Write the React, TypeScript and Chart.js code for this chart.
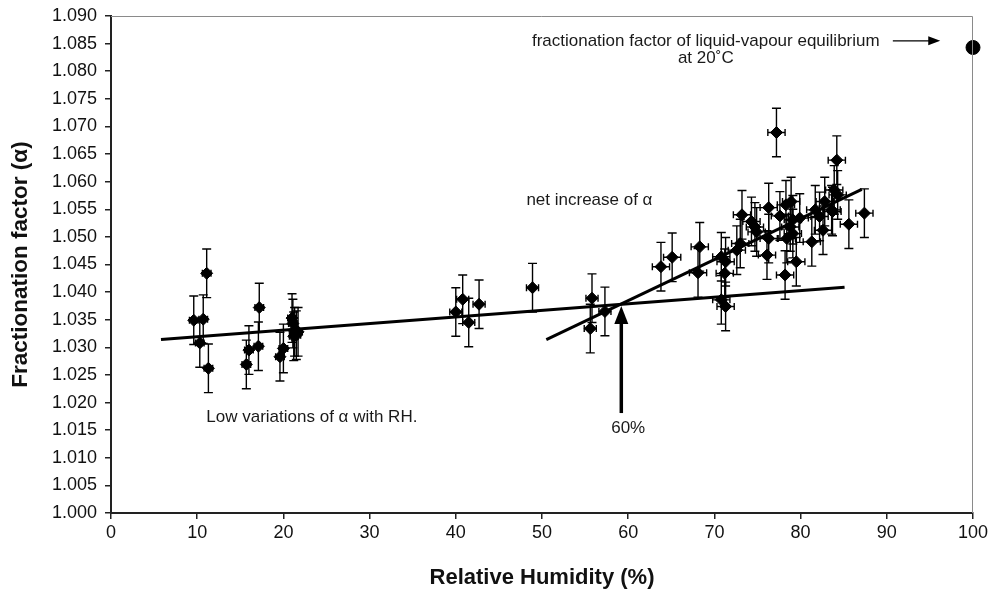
import React, { useEffect, useRef } from "react";
import { Chart, registerables } from "chart.js";

Chart.register(...registerables);

// Relative humidity (%) of each measurement
const rh = [
  9.6, 10.7, 10.3, 11.1, 11.3, 15.7, 16.0, 17.1, 17.2, 19.6, 20.0, 21.0, 21.1, 21.3, 21.5, 21.7, 21.2,
  40.0, 40.8, 41.5, 42.7, 48.9, 55.8, 55.6, 57.3,
  63.8, 65.1, 68.3, 68.1, 70.8, 71.3, 71.2, 70.8, 71.3, 72.6, 73.0, 73.2, 74.3, 74.9, 74.7,
  76.3, 76.3, 76.1, 77.2, 77.6, 78.3, 78.9, 79.1, 79.9, 78.8, 79.1, 78.4, 79.5, 78.2,
  81.3, 81.7, 82.2, 82.6, 82.8, 83.6, 83.9, 84.3, 83.7, 84.2, 85.6, 87.4,
];
// Fractionation factor alpha
const alpha = [
  1.0349, 1.0351, 1.0308, 1.0434, 1.0262, 1.0269, 1.0295, 1.0302, 1.0372, 1.0283, 1.0298, 1.0353, 1.0343, 1.0328, 1.0322, 1.0328, 1.032,
  1.0364, 1.0387, 1.0345, 1.0378, 1.0408, 1.0389, 1.0334, 1.0365,
  1.0446, 1.0463, 1.0482, 1.0435, 1.0464, 1.0455, 1.0434, 1.0386, 1.0374, 1.0476, 1.0488, 1.054, 1.0528, 1.0509, 1.0518,
  1.0553, 1.0497, 1.0467, 1.0689, 1.0538, 1.0558, 1.0564, 1.0531, 1.0534, 1.0518, 1.0506, 1.0497, 1.0455, 1.0431,
  1.0491, 1.0549, 1.0537, 1.0512, 1.0564, 1.0549, 1.0585, 1.0576, 1.0546, 1.0639, 1.0523, 1.0543,
];
// Uncertainty on RH (%)
const rhErr = [
  0.5, 0.5, 0.5, 0.5, 0.5, 0.5, 0.5, 0.5, 0.5, 0.5, 0.5, 0.5, 0.5, 0.5, 0.5, 0.5, 0.5,
  0.7, 0.7, 0.7, 0.7, 0.7, 0.7, 0.7, 0.7,
  1.0, 1.0, 1.0, 1.0, 1.0, 1.0, 1.0, 1.0, 1.0, 1.0, 1.0, 1.0, 1.0, 1.0, 1.0,
  1.0, 1.0, 1.0, 1.0, 1.0, 1.0, 1.0, 1.0, 1.0, 1.0, 1.0, 1.0, 1.0, 1.0,
  1.0, 1.0, 1.0, 1.0, 1.0, 1.0, 1.0, 1.0, 1.0, 1.0, 1.0, 1.0,
];
// Uncertainty on alpha
const alphaErr = [
  0.0044, 0.0044, 0.0044, 0.0044, 0.0044, 0.0044, 0.0044, 0.0044, 0.0044, 0.0044, 0.0044, 0.0044, 0.0044, 0.0044, 0.0044, 0.0044, 0.0044,
  0.0044, 0.0044, 0.0044, 0.0044, 0.0044, 0.0044, 0.0044, 0.0044,
  0.0044, 0.0044, 0.0044, 0.0044, 0.0044, 0.0044, 0.0044, 0.0044, 0.0044, 0.0044, 0.0044, 0.0044, 0.0044, 0.0044, 0.0044,
  0.0044, 0.0044, 0.0044, 0.0044, 0.0044, 0.0044, 0.0044, 0.0044, 0.0044, 0.0044, 0.0044, 0.0044, 0.0044, 0.0044,
  0.0044, 0.0044, 0.0044, 0.0044, 0.0044, 0.0044, 0.0044, 0.0044, 0.0044, 0.0044, 0.0044, 0.0044,
];

// Regression lines (end points)
const lowTrendX = [5.8, 85.1];
const lowTrendY = [1.0314, 1.0409];
const highTrendX = [50.5, 87.1];
const highTrendY = [1.0314, 1.0586];

// Liquid-vapour equilibrium reference point
const equilibriumX = [100];
const equilibriumY = [1.0843];

// Axis ranges / ticks
const xMin = 0, xMax = 100, xStep = 10;
const yMin = 1.0, yMax = 1.09, yStep = 0.005;

// Annotations (data coordinates)
const noteEquil1 = { text: "fractionation factor of liquid-vapour equilibrium", x: 69.0, y: 1.0855 };
const noteEquil2 = { text: "at 20˚C", x: 69.0, y: 1.0824 };
const arrowEquil = { x0: 90.7, x1: 96.2, y: 1.0855 };
const noteNet = { text: "net increase of α", x: 55.5, y: 1.0567 };
const noteLow = { text: "Low variations of α with RH.", x: 23.3, y: 1.0174 };
const note60 = { text: "60%", x: 60.0, y: 1.0154 };
const arrow60 = { x: 59.2, y0: 1.0181, y1: 1.0375 };

const FONT = "'Liberation Sans', Arial, Helvetica, sans-serif";

const errorBarPlugin = {
  id: "errorBars",
  beforeDatasetsDraw(chart: any) {
    const { ctx } = chart;
    const x = chart.scales.x;
    const y = chart.scales.y;
    ctx.save();
    ctx.strokeStyle = "#000";
    ctx.lineWidth = 1.4;
    for (let i = 0; i < rh.length; i++) {
      const px = x.getPixelForValue(rh[i]);
      const py = y.getPixelForValue(alpha[i]);
      const yT = y.getPixelForValue(alpha[i] + alphaErr[i]);
      const yB = y.getPixelForValue(alpha[i] - alphaErr[i]);
      const xL = x.getPixelForValue(rh[i] - rhErr[i]);
      const xR = x.getPixelForValue(rh[i] + rhErr[i]);
      ctx.beginPath();
      ctx.moveTo(px, yT); ctx.lineTo(px, yB);
      ctx.moveTo(px - 4.5, yT); ctx.lineTo(px + 4.5, yT);
      ctx.moveTo(px - 4.5, yB); ctx.lineTo(px + 4.5, yB);
      ctx.moveTo(xL, py); ctx.lineTo(xR, py);
      ctx.moveTo(xL, py - 3.5); ctx.lineTo(xL, py + 3.5);
      ctx.moveTo(xR, py - 3.5); ctx.lineTo(xR, py + 3.5);
      ctx.stroke();
    }
    ctx.restore();
  },
};

const annotationPlugin = {
  id: "annotations",
  afterDatasetsDraw(chart: any) {
    const { ctx, chartArea } = chart;
    const x = chart.scales.x;
    const y = chart.scales.y;
    ctx.save();
    // frame top / right
    ctx.strokeStyle = "#8a8a8a";
    ctx.lineWidth = 1;
    ctx.beginPath();
    ctx.moveTo(chartArea.left, chartArea.top + 0.5);
    ctx.lineTo(chartArea.right - 0.5, chartArea.top + 0.5);
    ctx.lineTo(chartArea.right - 0.5, chartArea.bottom);
    ctx.stroke();

    ctx.fillStyle = "#1a1a1a";
    ctx.font = `17px ${FONT}`;
    ctx.textAlign = "center";
    ctx.textBaseline = "middle";
    for (const n of [noteEquil1, noteEquil2, noteNet, noteLow, note60]) {
      ctx.fillText(n.text, x.getPixelForValue(n.x), y.getPixelForValue(n.y));
    }

    // horizontal arrow
    const ax0 = x.getPixelForValue(arrowEquil.x0);
    const ax1 = x.getPixelForValue(arrowEquil.x1);
    const ay = y.getPixelForValue(arrowEquil.y);
    ctx.strokeStyle = "#000";
    ctx.fillStyle = "#000";
    ctx.lineWidth = 1.3;
    ctx.beginPath();
    ctx.moveTo(ax0, ay);
    ctx.lineTo(ax1 - 8, ay);
    ctx.stroke();
    ctx.beginPath();
    ctx.moveTo(ax1, ay);
    ctx.lineTo(ax1 - 12, ay - 4.5);
    ctx.lineTo(ax1 - 12, ay + 4.5);
    ctx.closePath();
    ctx.fill();

    // vertical arrow
    const vx = x.getPixelForValue(arrow60.x);
    const vy0 = y.getPixelForValue(arrow60.y0);
    const vy1 = y.getPixelForValue(arrow60.y1);
    ctx.lineWidth = 3.5;
    ctx.beginPath();
    ctx.moveTo(vx, vy0);
    ctx.lineTo(vx, vy1 + 12);
    ctx.stroke();
    ctx.beginPath();
    ctx.moveTo(vx, vy1);
    ctx.lineTo(vx - 7, vy1 + 18);
    ctx.lineTo(vx + 7, vy1 + 18);
    ctx.closePath();
    ctx.fill();
    ctx.restore();
  },
};

export default function App() {
  const canvasRef = useRef<HTMLCanvasElement | null>(null);

  useEffect(() => {
    document.body.style.margin = "0";
    const canvas = canvasRef.current;
    if (!canvas) return;
    Chart.defaults.font.family = FONT;
    Chart.defaults.color = "#111";

    const points = rh.map((v, i) => ({ x: v, y: alpha[i] }));
    const chart = new Chart(canvas, {
      type: "scatter",
      data: {
        datasets: [
          {
            label: "low trend",
            type: "line",
            data: lowTrendX.map((v, i) => ({ x: v, y: lowTrendY[i] })),
            borderColor: "#000",
            borderWidth: 3,
            pointRadius: 0,
            showLine: true,
            fill: false,
          },
          {
            label: "high trend",
            type: "line",
            data: highTrendX.map((v, i) => ({ x: v, y: highTrendY[i] })),
            borderColor: "#000",
            borderWidth: 3,
            pointRadius: 0,
            showLine: true,
            fill: false,
          },
          {
            label: "alpha",
            data: points,
            pointStyle: "rectRot",
            pointRadius: 6,
            backgroundColor: "#000",
            borderColor: "#000",
            borderWidth: 1,
          },
          {
            label: "equilibrium",
            data: equilibriumX.map((v, i) => ({ x: v, y: equilibriumY[i] })),
            pointStyle: "circle",
            pointRadius: 7,
            backgroundColor: "#000",
            borderColor: "#000",
            clip: false,
          } as any,
        ],
      },
      options: {
        animation: false,
        responsive: false,
        events: [],
        layout: { padding: { left: 0, top: 16, right: 19, bottom: 0 } },
        plugins: {
          legend: { display: false },
          tooltip: { enabled: false },
        },
        scales: {
          x: {
            type: "linear",
            min: xMin,
            max: xMax,
            ticks: { stepSize: xStep, font: { size: 18 }, padding: 3, color: "#111" },
            grid: { display: true, drawOnChartArea: false, drawTicks: true, tickLength: 6, color: "#222", lineWidth: 1.5 },
            border: { display: true, color: "#222", width: 2 },
            title: { display: true, text: "Relative Humidity (%)", font: { size: 22, weight: "bold" }, color: "#111", padding: { top: 0, bottom: 1 } },
            afterFit: (s: any) => { s.height = 79; s.paddingLeft = 0; s.paddingRight = 0; },
          },
          y: {
            type: "linear",
            min: yMin,
            max: yMax,
            ticks: { stepSize: yStep, font: { size: 18 }, padding: 8, color: "#111", callback: (v: any) => Number(v).toFixed(3) },
            grid: { display: true, drawOnChartArea: false, drawTicks: true, tickLength: 6, color: "#222", lineWidth: 1.5 },
            border: { display: true, color: "#222", width: 2 },
            title: { display: true, text: "Fractionation factor (α)", font: { size: 22.5, weight: "bold" }, color: "#111", padding: { top: 7, bottom: 0 } },
            afterFit: (s: any) => { s.width = 111; s.paddingTop = 0; s.paddingBottom = 0; },
          },
        },
      },
      plugins: [errorBarPlugin, annotationPlugin],
    } as any);
    return () => chart.destroy();
  }, []);

  return (
    <div style={{ width: 992, height: 592 }}>
      <canvas ref={canvasRef} width={992} height={592} />
    </div>
  );
}
